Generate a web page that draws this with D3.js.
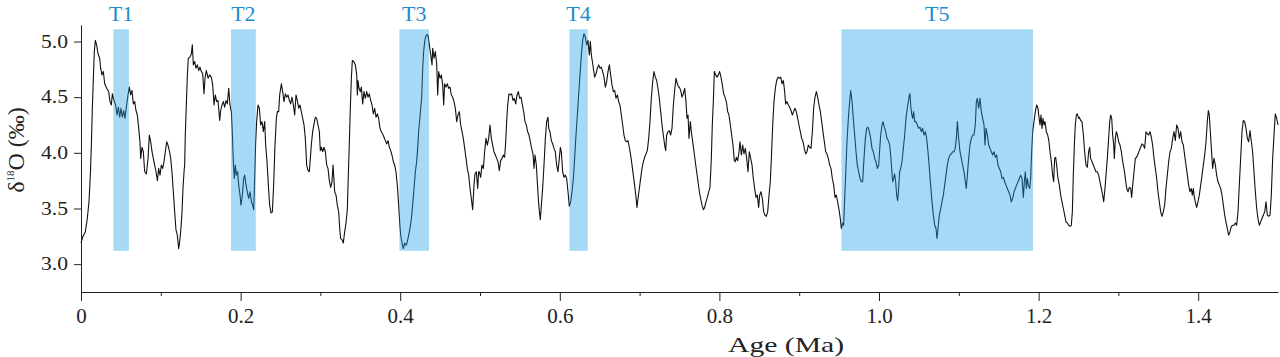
<!DOCTYPE html>
<html>
<head>
<meta charset="utf-8">
<script src="https://cdn.jsdelivr.net/npm/d3@7"></script>
<style>
  body { margin: 0; background: #fff; }
</style>
</head>
<body>
<svg id="chart" width="1280" height="357"></svg>
<script>
const SERIF = '"Liberation Serif"';

// termination bands (ka)
const bandNames = ["T1", "T2", "T3", "T4", "T5"];
const bandStartKa = [40.5, 188, 399, 612, 953];
const bandEndKa = [60, 219, 436, 635, 1193];
const bandValueRange = [3.12, 5.11];

const xTickKa = [0, 200, 400, 600, 800, 1000, 1200, 1400];
const xTickLabels = ["0", "0.2", "0.4", "0.6", "0.8", "1.0", "1.2", "1.4"];
const xMinorKa = [100, 300, 500, 700, 900, 1100, 1300];
const yTicks = [3.0, 3.5, 4.0, 4.5, 5.0];

// [age (ka), d18O (permil)], 250 kyr per block
const record0 = [[0,3.19],[2.5,3.25],[5.4,3.29],[7.9,3.41],[10.0,3.56],[11.7,3.80],[13.0,4.07],[14.2,4.40],[15.5,4.67],[16.7,4.91],[18.0,5.01],[19.6,4.97],[21.3,4.89],[23.4,4.85],[24.6,4.76],[26.3,4.70],[28.0,4.73],[29.7,4.62],[32.2,4.58],[34.7,4.55],[36.3,4.46],[38.0,4.43],[39.3,4.53],[41.4,4.47],[43.4,4.43],[45.1,4.34],[46.8,4.41],[48.5,4.32],[50.1,4.40],[51.8,4.32],[53.5,4.38],[55.1,4.31],[57.2,4.43],[58.9,4.52],[60.6,4.59],[62.2,4.52],[63.9,4.56],[65.6,4.44],[67.3,4.46],[68.9,4.38],[70.6,4.34],[72.3,4.22],[73.9,4.10],[74.8,3.95],[76.4,4.05],[78.1,4.01],[79.8,3.83],[81.9,3.81],[84.0,3.95],[85.6,4.16],[87.3,4.10],[89.0,4.01],[90.6,3.95],[92.3,3.89],[94.0,3.83],[95.7,3.75],[97.3,3.86],[99.0,3.80],[100.7,3.89],[102.3,3.86],[104.0,3.92],[105.7,4.01],[107.4,4.10],[109.0,4.07],[110.7,4.02],[112.4,3.95],[114.0,3.83],[115.7,3.65],[117.4,3.47],[119.0,3.31],[120.7,3.26],[122.4,3.14],[123.6,3.20],[124.9,3.29],[126.6,3.47],[127.8,3.68],[129.1,3.83],[129.9,3.89],[130.7,4.16],[132.0,4.43],[133.3,4.70],[134.5,4.85],[136.6,4.86],[138.3,4.89],[139.5,4.97],[140.8,4.79],[142.4,4.82],[144.1,4.76],[145.8,4.79],[147.5,4.74],[149.1,4.77],[150.8,4.73],[152.5,4.71],[154.1,4.53],[155.4,4.67],[157.1,4.74],[159.2,4.67],[161.2,4.70],[163.3,4.68],[165.0,4.61],[166.7,4.43],[168.3,4.52],[170.0,4.46],[171.7,4.47],[173.8,4.29],[175.0,4.38],[176.7,4.43],[178.4,4.46],[180.0,4.41],[181.7,4.47],[183.4,4.44],[185.1,4.58],[186.7,4.43],[188.4,4.37],[189.6,4.19],[190.9,3.92],[192.2,3.77],[193.4,3.89],[194.7,3.80],[196.3,3.83],[197.6,3.71],[199.3,3.62],[200.5,3.53],[202.2,3.62],[203.8,3.77],[205.1,3.80],[206.8,3.71],[208.4,3.65],[210.1,3.59],[211.8,3.65],[213.5,3.56],[215.1,3.53],[216.4,3.49],[217.6,3.77],[218.9,4.10],[220.1,4.28],[221.8,4.43],[223.5,4.40],[225.2,4.25],[226.8,4.28],[228.5,4.19],[230.2,4.28],[231.4,4.07],[233.1,3.92],[234.8,3.71],[236.4,3.53],[238.1,3.46],[239.8,3.47],[241.4,3.71],[243.1,4.07],[244.8,4.31],[246.0,4.37],[247.7,4.37]];

const record250 = [[249.0,4.52],[251.1,4.62],[252.7,4.55],[254.4,4.46],[256.1,4.53],[257.7,4.50],[259.4,4.52],[261.1,4.47],[262.7,4.44],[264.4,4.50],[266.1,4.43],[267.8,4.34],[269.4,4.52],[271.1,4.47],[272.8,4.40],[274.4,4.43],[276.1,4.37],[277.8,4.31],[279.5,4.25],[281.1,4.13],[282.8,3.89],[284.5,3.84],[286.1,3.83],[287.4,3.95],[288.6,4.07],[290.3,4.19],[292.0,4.26],[293.7,4.32],[295.3,4.31],[297.0,4.25],[298.7,4.19],[299.9,4.02],[301.2,4.05],[302.8,4.01],[304.5,4.05],[306.2,4.01],[307.9,3.89],[309.5,3.86],[311.2,3.75],[312.9,3.69],[314.5,3.74],[315.8,3.89],[316.6,3.80],[317.9,3.65],[319.6,3.62],[321.2,3.53],[322.9,3.47],[324.2,3.32],[325.4,3.23],[327.1,3.22],[328.7,3.19],[330.4,3.29],[332.1,3.37],[333.8,3.50],[335.0,3.80],[336.3,4.10],[337.5,4.40],[338.8,4.67],[340.0,4.83],[341.7,4.82],[343.8,4.79],[345.5,4.70],[346.3,4.52],[347.1,4.65],[348.4,4.58],[350.0,4.55],[351.3,4.59],[353.0,4.44],[354.6,4.55],[356.3,4.49],[358.0,4.55],[359.7,4.50],[361.3,4.53],[363.0,4.47],[364.7,4.43],[366.3,4.35],[368.0,4.40],[369.7,4.32],[371.4,4.35],[373.0,4.31],[374.7,4.22],[376.4,4.19],[378.0,4.17],[379.7,4.14],[381.4,4.11],[383.0,4.08],[384.7,4.11],[386.4,4.05],[388.1,4.02],[389.7,3.98],[391.4,3.92],[393.1,3.89],[394.7,3.83],[396.4,3.71],[398.1,3.53],[399.3,3.38],[400.6,3.26],[402.3,3.19],[403.9,3.14],[405.6,3.19],[407.3,3.17],[408.9,3.20],[410.6,3.26],[412.3,3.32],[414.0,3.41],[415.6,3.53],[417.3,3.68],[419.0,3.83],[420.6,3.92],[421.9,4.04],[423.1,4.19],[424.4,4.29],[425.7,4.40],[426.9,4.49],[428.2,4.76],[429.4,4.91],[430.7,5.00],[431.9,5.04],[433.2,5.06],[434.8,5.06],[436.5,4.97],[438.2,4.88],[439.9,4.79],[440.7,4.94],[442.4,4.85],[444.0,4.91],[445.7,4.80],[447.0,4.52],[448.2,4.73],[449.9,4.67],[451.6,4.70],[453.2,4.61],[454.5,4.43],[455.7,4.62],[457.4,4.59],[459.1,4.62],[460.7,4.58],[462.4,4.59],[464.1,4.52],[465.8,4.50],[467.4,4.46],[469.1,4.40],[470.8,4.28],[472.4,4.34],[474.1,4.37],[475.8,4.25],[477.5,4.19],[479.1,4.13],[480.8,4.04],[482.5,3.95],[484.1,3.86],[485.8,3.80],[487.5,3.68],[489.1,3.59],[490.8,3.49],[492.5,3.71],[493.7,3.81],[495.4,3.83],[497.1,3.68],[498.3,3.83]];

const record500 = [[499.2,3.83],[500.8,3.78],[502.5,3.89],[504.2,3.86],[505.8,4.01],[507.5,4.13],[509.2,4.07],[510.9,4.13],[512.5,4.25],[514.2,4.13],[515.9,4.07],[517.5,4.01],[519.2,3.98],[520.9,3.95],[522.6,3.92],[524.2,3.84],[525.9,3.93],[527.6,3.95],[529.2,3.98],[530.9,3.96],[532.2,4.10],[533.4,4.28],[534.7,4.43],[536.3,4.53],[538.0,4.52],[539.7,4.53],[541.4,4.47],[543.0,4.49],[544.7,4.44],[546.4,4.52],[548.0,4.55],[549.7,4.49],[551.4,4.50],[553.1,4.43],[554.7,4.37],[556.4,4.28],[558.1,4.25],[559.7,4.19],[561.4,4.16],[563.1,4.10],[564.7,4.04],[566.4,3.99],[567.7,3.86],[568.9,3.98],[570.6,3.89],[571.8,3.74],[573.1,3.59],[574.4,3.47],[575.6,3.40],[576.9,3.53],[578.5,3.68],[580.2,3.89],[581.9,4.13],[583.5,4.28],[585.2,4.32],[586.1,4.22],[587.7,4.19],[589.4,4.11],[591.1,4.08],[592.7,4.04],[594.4,4.01],[596.1,3.89],[597.7,3.83],[599.4,3.95],[600.7,4.05],[601.9,4.01],[603.6,3.83],[605.3,3.78],[606.9,3.80],[608.6,3.77],[610.3,3.65],[611.9,3.52],[613.6,3.56],[615.3,3.65],[617.0,3.77],[618.6,3.95],[620.3,4.16],[622.0,4.34],[623.6,4.52],[625.3,4.70],[627.0,4.88],[628.7,5.01],[630.3,5.07],[632.0,5.04],[633.7,4.97],[635.3,5.01],[637.0,4.88],[638.3,5.00],[639.5,4.88],[640.8,4.82],[642.0,4.76],[643.7,4.68],[645.4,4.71],[647.0,4.76],[648.7,4.79],[650.4,4.76],[652.0,4.77],[653.7,4.73],[655.4,4.68],[657.1,4.59],[658.7,4.64],[660.4,4.73],[662.1,4.79],[663.7,4.70],[665.4,4.61],[667.1,4.55],[668.8,4.56],[670.4,4.49],[672.1,4.52],[673.8,4.46],[675.4,4.43],[677.1,4.34],[678.8,4.25],[680.4,4.16],[682.1,4.11],[683.8,4.10],[685.5,4.11],[687.1,4.05],[688.8,3.98],[690.5,3.89],[692.1,3.80],[693.8,3.71],[695.5,3.60],[696.7,3.51],[698.0,3.59],[699.7,3.68],[701.3,3.77],[703.0,3.86],[704.7,3.92],[706.3,3.96],[708.0,3.99],[709.7,4.02],[711.4,4.13],[713.0,4.28],[714.7,4.49],[716.4,4.64],[718.0,4.73],[719.7,4.68],[721.4,4.65],[723.0,4.58],[724.7,4.49],[726.4,4.37],[728.1,4.25],[729.7,4.16],[731.4,4.07],[732.7,4.02],[733.9,4.16],[735.6,4.19],[737.3,4.20],[738.9,4.16],[740.6,4.22],[742.3,4.43],[743.9,4.56],[745.6,4.67],[747.3,4.62],[748.9,4.59]];

const record750 = [[749.8,4.59],[751.5,4.56],[753.1,4.50],[754.8,4.53],[756.5,4.58],[758.1,4.46],[759.4,4.31],[760.7,4.34],[761.9,4.13],[763.6,4.28],[764.8,4.19],[766.5,4.10],[768.2,4.01],[769.8,3.92],[771.5,3.83],[773.2,3.74],[774.9,3.65],[776.5,3.59],[778.2,3.53],[779.9,3.49],[781.5,3.51],[783.2,3.56],[784.9,3.60],[786.6,3.65],[788.2,3.69],[789.9,3.95],[791.1,4.25],[792.4,4.46],[793.7,4.73],[795.3,4.70],[797.0,4.68],[798.7,4.70],[800.3,4.73],[802.0,4.68],[803.7,4.61],[805.4,4.53],[807.0,4.50],[808.7,4.46],[810.4,4.37],[812.0,4.34],[813.7,4.25],[815.4,4.16],[817.0,4.07],[818.7,3.93],[820.0,3.92],[821.2,3.96],[822.9,3.93],[824.6,4.01],[825.8,4.10],[827.5,3.98],[829.2,4.07],[830.8,3.99],[832.5,4.04],[834.2,3.95],[835.8,3.83],[837.5,4.01],[839.2,3.95],[840.9,3.89],[842.5,3.77],[844.2,3.68],[845.9,3.60],[847.5,3.62],[849.2,3.51],[850.5,3.62],[852.1,3.65],[853.8,3.59],[855.5,3.47],[857.1,3.44],[858.8,3.43],[860.5,3.47],[862.2,3.62],[863.8,3.74],[865.1,3.95],[866.8,4.25],[868.4,4.46],[870.1,4.58],[871.8,4.65],[873.4,4.68],[875.1,4.67],[876.8,4.68],[878.5,4.62],[880.1,4.65],[881.8,4.55],[883.0,4.44],[884.7,4.46],[886.4,4.43],[888.1,4.41],[889.7,4.38],[891.4,4.34],[893.1,4.37],[894.7,4.40],[896.4,4.37],[898.1,4.31],[899.7,4.25],[901.4,4.19],[903.1,4.13],[904.8,4.10],[906.4,4.04],[908.1,3.99],[909.8,4.01],[911.4,4.07],[913.1,4.05],[914.8,4.04],[916.5,4.19],[918.1,4.40],[919.8,4.50],[921.5,4.55],[923.1,4.50],[924.8,4.43],[926.5,4.37],[928.2,4.28],[929.8,4.19],[931.5,4.10],[933.2,4.01],[934.8,3.99],[936.5,3.95],[938.2,3.89],[939.8,3.86],[941.5,3.77],[943.2,3.71],[944.9,3.60],[946.5,3.62],[948.2,3.56],[949.9,3.49],[951.5,3.41],[952.8,3.32],[954.5,3.37],[955.7,3.35],[957.0,3.59],[958.2,3.80],[959.9,4.10],[961.6,4.31],[963.2,4.46],[964.5,4.56],[966.2,4.46],[967.8,4.31],[969.5,4.16],[971.2,4.01],[972.8,3.89],[974.5,3.83],[976.2,3.77],[977.9,3.74],[979.5,3.74],[981.2,3.95],[982.9,4.13],[984.5,4.22],[986.2,4.23],[987.9,4.19],[989.6,4.13],[991.2,4.04],[992.9,4.01],[994.6,3.95],[996.2,3.92],[997.9,3.86],[999.6,3.89]];

const record1000 = [[1000.4,3.98],[1002.1,4.16],[1003.8,4.25],[1005.0,4.28],[1006.7,4.23],[1008.4,4.19],[1010.0,4.13],[1011.7,4.11],[1013.4,4.07],[1014.6,3.98],[1015.9,3.86],[1017.1,3.74],[1018.4,3.77],[1019.6,3.81],[1020.9,3.74],[1022.1,3.62],[1023.4,3.57],[1024.6,3.68],[1025.9,3.83],[1027.2,3.86],[1028.8,3.92],[1030.5,4.04],[1032.2,4.16],[1033.8,4.31],[1035.5,4.40],[1036.8,4.46],[1038.0,4.52],[1038.8,4.53],[1039.7,4.43],[1040.9,4.35],[1042.2,4.31],[1043.4,4.37],[1044.7,4.28],[1046.4,4.28],[1048.0,4.25],[1049.7,4.22],[1051.4,4.23],[1053.0,4.19],[1054.7,4.22],[1056.4,4.16],[1058.1,4.19],[1059.7,4.13],[1061.4,4.01],[1063.1,3.86],[1064.7,3.71],[1066.4,3.56],[1068.1,3.44],[1069.8,3.35],[1071.4,3.32],[1072.7,3.23],[1073.9,3.32],[1075.6,3.44],[1077.3,3.50],[1078.9,3.56],[1080.6,3.62],[1082.3,3.71],[1084.0,3.80],[1085.6,3.89],[1087.3,3.95],[1089.0,3.98],[1090.6,3.99],[1092.3,4.01],[1094.0,4.01],[1095.6,4.04],[1096.9,4.13],[1098.2,4.28],[1099.8,4.13],[1101.5,4.01],[1103.2,3.95],[1104.8,3.89],[1106.5,3.83],[1108.2,3.74],[1109.4,3.68],[1110.7,3.80],[1112.4,3.95],[1114.0,4.07],[1115.7,4.13],[1117.4,4.16],[1119.0,4.16],[1120.7,4.25],[1122.0,4.46],[1123.2,4.49],[1124.9,4.40],[1126.6,4.49],[1128.2,4.37],[1129.9,4.31],[1131.6,4.25],[1132.8,4.07],[1134.1,4.22],[1135.8,4.16],[1137.4,4.07],[1139.1,4.04],[1140.8,4.01],[1142.4,3.98],[1144.1,4.01],[1145.8,3.96],[1147.4,3.98],[1149.1,3.89],[1150.8,3.86],[1152.5,3.83],[1154.1,3.77],[1155.8,3.78],[1157.5,3.74],[1159.1,3.71],[1160.8,3.68],[1162.5,3.65],[1164.2,3.62],[1165.8,3.56],[1167.5,3.59],[1169.2,3.65],[1170.8,3.68],[1172.5,3.71],[1174.2,3.74],[1175.9,3.77],[1177.5,3.80],[1179.2,3.77],[1180.9,3.60],[1182.1,3.74],[1183.4,3.83],[1184.6,3.68],[1185.9,3.77],[1187.1,3.71],[1188.8,3.68],[1190.1,3.77],[1191.3,4.01],[1192.6,4.19],[1194.2,4.28],[1195.9,4.37],[1197.6,4.43],[1199.2,4.40],[1200.5,4.32],[1201.8,4.25],[1203.0,4.34],[1204.3,4.22],[1205.5,4.31],[1206.8,4.25],[1208.0,4.28],[1209.7,4.19],[1211.4,4.16],[1213.0,4.10],[1214.3,4.01],[1216.0,3.92],[1217.6,3.80],[1218.9,3.74],[1220.1,3.95],[1221.4,3.96],[1222.6,3.89],[1224.3,3.77],[1226.0,3.71],[1227.7,3.62],[1229.3,3.56],[1231.0,3.50],[1232.7,3.44],[1234.3,3.38],[1236.0,3.37],[1237.7,3.35],[1239.3,3.34],[1241.0,3.35],[1242.3,3.47],[1243.5,3.80],[1244.8,4.07],[1246.0,4.25],[1247.3,4.34],[1248.5,4.35],[1250.2,4.31]];

const record1250 = [[1251.0,4.32],[1252.7,4.29],[1254.4,4.28],[1256.1,4.16],[1257.7,4.01],[1259.4,3.89],[1261.1,3.87],[1262.7,4.01],[1264.0,4.05],[1265.2,3.95],[1266.9,3.92],[1268.6,3.89],[1270.3,3.86],[1271.9,3.83],[1273.6,3.83],[1275.3,3.80],[1276.9,3.74],[1278.6,3.68],[1280.3,3.62],[1281.5,3.56],[1282.8,3.65],[1284.5,3.80],[1286.1,3.95],[1287.8,4.13],[1289.1,4.28],[1290.3,4.34],[1291.6,4.31],[1292.8,4.16],[1294.1,4.07],[1294.9,3.95],[1296.2,4.13],[1297.4,4.19],[1298.7,4.16],[1300.3,4.10],[1302.0,4.07],[1303.7,4.01],[1305.4,3.92],[1307.0,3.86],[1308.7,3.77],[1310.4,3.68],[1312.0,3.65],[1313.7,3.69],[1315.4,3.68],[1316.6,3.60],[1317.9,3.71],[1319.6,3.83],[1321.2,3.95],[1322.9,3.96],[1324.6,3.99],[1326.2,4.02],[1327.9,4.05],[1329.6,4.08],[1331.2,4.07],[1332.9,4.04],[1334.6,4.19],[1336.3,4.17],[1337.9,4.16],[1339.6,4.19],[1341.3,4.14],[1342.9,4.07],[1344.6,3.95],[1346.3,3.86],[1348.0,3.77],[1349.6,3.65],[1351.3,3.56],[1353.0,3.47],[1354.6,3.43],[1356.3,3.47],[1358.0,3.53],[1359.6,3.68],[1361.3,3.80],[1363.0,3.92],[1364.7,4.01],[1366.3,4.04],[1368.0,4.13],[1369.7,4.19],[1371.3,4.11],[1373.0,4.25],[1374.7,4.22],[1376.4,4.13],[1378.0,4.19],[1379.7,4.10],[1381.4,4.07],[1383.0,3.98],[1384.7,3.89],[1386.4,3.80],[1388.0,3.71],[1389.7,3.65],[1391.4,3.68],[1392.6,3.62],[1393.9,3.68],[1395.2,3.60],[1396.4,3.56],[1398.1,3.51],[1399.7,3.56],[1401.4,3.62],[1403.1,3.71],[1404.8,3.80],[1406.4,3.89],[1408.1,3.98],[1409.8,4.10],[1411.4,4.28],[1412.7,4.38],[1413.9,4.34],[1415.2,4.19],[1416.5,4.04],[1418.1,3.86],[1419.8,3.95],[1421.5,3.89],[1423.1,3.80],[1424.8,3.74],[1426.5,3.71],[1428.1,3.68],[1429.8,3.62],[1431.5,3.53],[1433.2,3.44],[1434.8,3.38],[1436.5,3.32],[1438.2,3.26],[1439.8,3.29],[1441.5,3.34],[1443.2,3.35],[1444.9,3.35],[1446.5,3.37],[1448.2,3.35],[1449.9,3.47],[1451.5,3.71],[1453.2,3.95],[1454.9,4.19],[1456.5,4.29],[1458.2,4.28],[1459.9,4.22],[1461.6,4.13],[1463.2,4.10],[1464.9,4.20],[1466.6,4.10],[1468.2,4.01],[1469.9,3.83],[1471.6,3.65],[1473.3,3.50],[1474.9,3.41],[1476.6,3.35],[1478.3,3.38],[1479.9,3.41],[1481.6,3.44],[1483.3,3.47],[1485.0,3.56],[1486.6,3.44],[1488.3,3.43],[1490.0,3.44],[1491.6,3.62],[1493.3,3.95],[1495.0,4.16],[1496.6,4.35],[1498.3,4.31],[1500.0,4.25]];

const record = [].concat(record0, record250, record500, record750, record1000, record1250);

const svg = d3.select("#chart");

const x = d3.scaleLinear().domain([0, 1500]).range([81, 1278]);
const y = d3.scaleLinear().domain([2.75, 5.15]).range([292, 24.8]);

// the curve
const line = d3.line()
  .x((d) => x(d[0]))
  .y((d) => y(d[1]));

svg.append("path")
  .datum(record)
  .attr("fill", "none")
  .attr("stroke", "#111")
  .attr("stroke-width", 1.1)
  .attr("stroke-linejoin", "round")
  .attr("d", line);

// bands go on top, translucent, so the line shows through darkened
const bands = bandNames.map((name, i) => ({ name, x0: bandStartKa[i], x1: bandEndKa[i] }));

svg.append("g")
  .selectAll("rect")
  .data(bands)
  .join("rect")
  .attr("x", (d) => x(d.x0))
  .attr("width", (d) => x(d.x1) - x(d.x0))
  .attr("y", y(bandValueRange[1]))
  .attr("height", y(bandValueRange[0]) - y(bandValueRange[1]))
  .attr("fill", "rgb(30,160,230)")
  .attr("fill-opacity", 0.4);

svg.append("g")
  .selectAll("text")
  .data(bands)
  .join("text")
  .attr("x", (d) => x((d.x0 + d.x1) / 2))
  .attr("y", 21)
  .attr("text-anchor", "middle")
  .attr("font-size", 22)
  .attr("fill", "#1a8ccf")
  .style("font-family", SERIF)
  .text((d) => d.name);

// axes
const yAxis = svg.append("g")
  .attr("transform", `translate(${x(0)},0)`)
  .call(d3.axisLeft(y).tickValues(yTicks).tickSize(7).tickSizeOuter(0)
    .tickPadding(6).tickFormat(d3.format(".1f")));

yAxis.selectAll("text")
  .attr("font-size", 18)
  .attr("textLength", 27)
  .attr("lengthAdjust", "spacingAndGlyphs");

const xAxis = svg.append("g")
  .attr("transform", `translate(0,${y(2.75)})`)
  .call(d3.axisBottom(x).tickValues(xTickKa).tickSize(9).tickSizeOuter(0)
    .tickPadding(7).tickFormat((d, i) => xTickLabels[i]));

xAxis.selectAll("text").attr("font-size", 21);

svg.append("g")
  .attr("transform", `translate(0,${y(2.75)})`)
  .call(d3.axisBottom(x).tickValues(xMinorKa).tickSize(4).tickFormat(""))
  .call((g) => g.select(".domain").remove());

svg.selectAll(".domain, .tick line").attr("stroke", "#222");
svg.selectAll(".tick text").attr("fill", "#222").style("font-family", SERIF);

// titles
svg.append("text")
  .attr("x", 786)
  .attr("y", 352)
  .attr("text-anchor", "middle")
  .attr("font-size", 21)
  .attr("fill", "#222")
  .attr("textLength", 116)
  .attr("lengthAdjust", "spacingAndGlyphs")
  .style("font-family", SERIF)
  .text("Age (Ma)");

const yTitle = svg.append("text")
  .attr("transform", "translate(24,150) rotate(-90)")
  .attr("text-anchor", "middle")
  .attr("font-size", 24)
  .attr("fill", "#222")
  .style("font-family", SERIF);
yTitle.append("tspan").text("δ");
yTitle.append("tspan").attr("font-size", 11).attr("dy", -10).text("18");
yTitle.append("tspan").attr("dy", 10).text("O (‰)");
</script>
</body>
</html>
